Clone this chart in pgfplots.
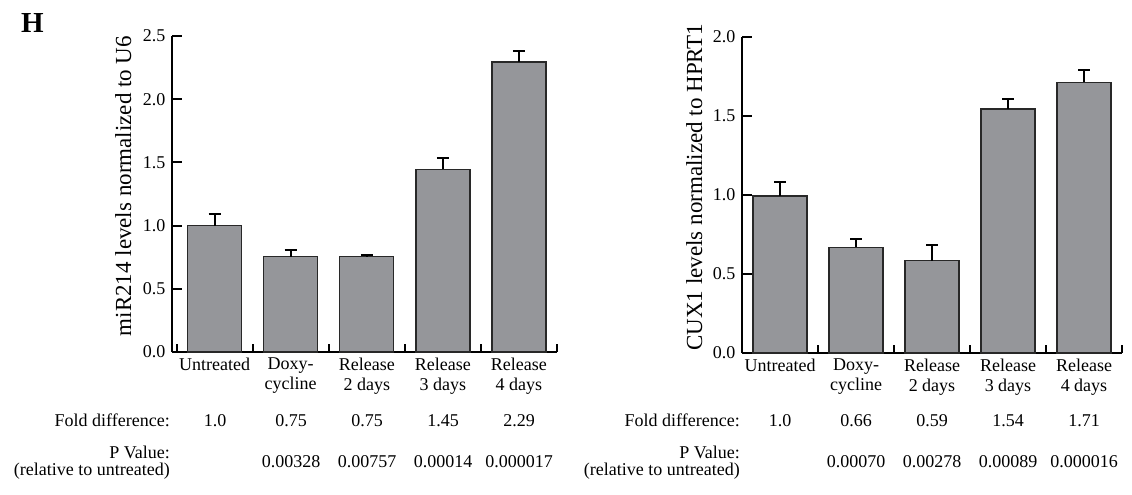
\documentclass[border=0pt]{standalone}
\usepackage{pgfplots}
\pgfplotsset{compat=1.18}
\usepackage{fontspec}
\setmainfont{Liberation Serif}
\definecolor{barfill}{RGB}{149,150,154}
\definecolor{baredge}{RGB}{40,40,40}
\pgfplotsset{
  mybars/.style={
    scale only axis,
    axis lines=left,
    axis line style={-, line width=2bp, black},
    tick align=inside,
    ymin=0,
    xtick={0,1,2,3,4},
    xticklabels={Untreated,{Doxy-\\cycline},{Release\\2 days},{Release\\3 days},{Release\\4 days}},
    xticklabel style={align=center, font=\fontsize{18bp}{20bp}\selectfont, inner sep=0pt, yshift=-6bp},
    major x tick style={draw=none},
    minor xtick={-0.5,0.5,1.5,2.5,3.5,4.5},
    minor x tick style={line width=2bp, black},
    minor tick length=8bp,
    major tick length=10bp,
    ytick style={line width=2bp, black},
    yticklabel style={font=\fontsize{18bp}{20bp}\selectfont, xshift=-3bp},
    /pgf/number format/.cd, fixed, fixed zerofill, precision=1, assume math mode=true,
    /pgfplots/.cd,
    ylabel style={font=\fontsize{23bp}{25bp}\selectfont, anchor=base},
    clip=false,
  },
  mybarplot/.style={
    ybar, bar width=0.71, fill=barfill, draw=baredge, line width=1.3bp,
    error bars/.cd, y dir=plus, y explicit,
    error bar style={line width=2bp, black},
    error mark=|,
    error mark options={line width=2bp, black, mark size=6bp},
  },
}
\begin{document}
\begin{tikzpicture}
\useasboundingbox (0,0) rectangle (1132bp,-495bp);
\node[anchor=base west, inner sep=0pt, font=\fontsize{29bp}{30bp}\selectfont\bfseries] at (21bp,-32bp) {H};

% Left chart
\begin{axis}[mybars,
  at={(172bp,-352bp)}, anchor=south west,
  width=385bp, height=316bp,
  xmin=-0.56, xmax=4.5,
  ymax=2.5, ytick={0,0.5,1.0,1.5,2.0,2.5},
  ylabel={miR214 levels normalized to U6},
  ylabel style={at={(axis description cs:-0.106,0.525)}},
]
\addplot[mybarplot] coordinates {
  (0,1.000) +- (0,0.088)
  (1,0.755) +- (0,0.055)
  (2,0.755) +- (0,0.016)
  (3,1.445) +- (0,0.087)
  (4,2.295) +- (0,0.085)
};
\end{axis}

% Right chart
\begin{axis}[mybars,
  at={(742bp,-353bp)}, anchor=south west,
  width=380bp, height=316bp,
  xmin=-0.5, xmax=4.5,
  ymax=2.0, ytick={0,0.5,1.0,1.5,2.0},
  ylabel={CUX1 levels normalized to HPRT1},
  ylabel style={at={(axis description cs:-0.105,0.525)}},
]
\addplot[mybarplot] coordinates {
  (0,0.994) +- (0,0.088)
  (1,0.669) +- (0,0.053)
  (2,0.585) +- (0,0.097)
  (3,1.545) +- (0,0.061)
  (4,1.714) +- (0,0.077)
};
\end{axis}

% Tables
\begin{scope}[every node/.style={inner sep=0pt, font=\fontsize{18bp}{20bp}\selectfont}]
\node[anchor=base east] at (170bp,-426bp) {Fold difference:};
\node[anchor=base east] at (170bp,-458bp) {P Value:};
\node[anchor=base east] at (170bp,-475bp) {(relative to untreated)};
\node[anchor=base] at (215bp,-426bp) {1.0};
\node[anchor=base] at (291bp,-426bp) {0.75};
\node[anchor=base] at (367bp,-426bp) {0.75};
\node[anchor=base] at (443bp,-426bp) {1.45};
\node[anchor=base] at (519bp,-426bp) {2.29};
\node[anchor=base] at (291bp,-467bp) {0.00328};
\node[anchor=base] at (367bp,-467bp) {0.00757};
\node[anchor=base] at (443bp,-467bp) {0.00014};
\node[anchor=base] at (519bp,-467bp) {0.000017};

\node[anchor=base east] at (740bp,-426bp) {Fold difference:};
\node[anchor=base east] at (740bp,-458bp) {P Value:};
\node[anchor=base east] at (740bp,-475bp) {(relative to untreated)};
\node[anchor=base] at (780bp,-426bp) {1.0};
\node[anchor=base] at (856bp,-426bp) {0.66};
\node[anchor=base] at (932bp,-426bp) {0.59};
\node[anchor=base] at (1008bp,-426bp) {1.54};
\node[anchor=base] at (1084bp,-426bp) {1.71};
\node[anchor=base] at (856bp,-467bp) {0.00070};
\node[anchor=base] at (932bp,-467bp) {0.00278};
\node[anchor=base] at (1008bp,-467bp) {0.00089};
\node[anchor=base] at (1084bp,-467bp) {0.000016};
\end{scope}
\end{tikzpicture}
\end{document}
